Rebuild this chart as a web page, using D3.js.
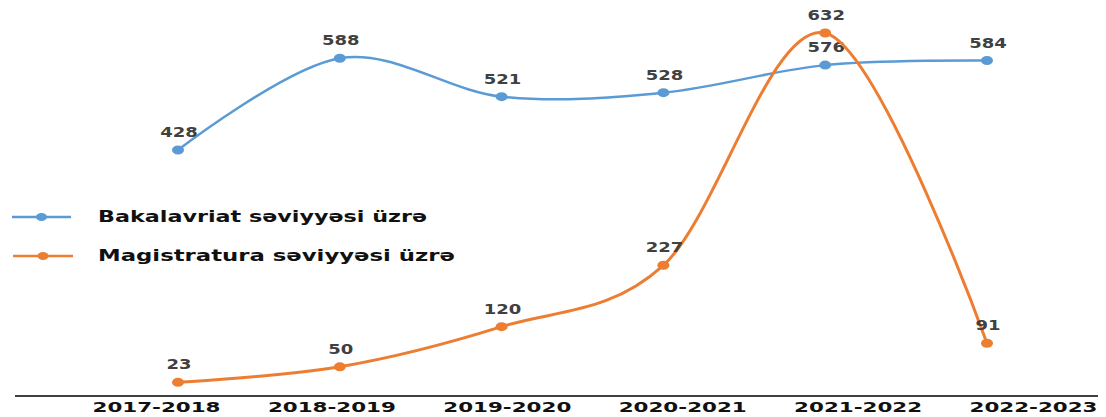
<!DOCTYPE html>
<html><head><meta charset="utf-8">
<script src="https://cdn.jsdelivr.net/npm/d3@7"></script>
<style>html,body{margin:0;padding:0;background:#fff;}svg{display:block;}</style>
</head><body>
<svg id="chart" width="1106" height="417"></svg>
<script>
const categories = ["2017-2018","2018-2019","2019-2020","2020-2021","2021-2022","2022-2023"];
const bakalavriat = [428, 588, 521, 528, 576, 584];
const magistratura = [23, 50, 120, 227, 632, 91];
const seriesNames = ["Bakalavriat səviyyəsi üzrə", "Magistratura səviyyəsi üzrə"];
const colors = ["#5B9BD5", "#ED7D31"];

const svg = d3.select("#chart");
const x = d3.scalePoint().domain(categories).range([178, 987]);
const xLabel = d3.scalePoint().domain(categories).range([156, 1033]);
const y = d3.scaleLinear().domain([0, 700]).range([395.5, -6]);

// baseline axis
svg.append("line").attr("x1", 15).attr("x2", 1098).attr("y1", 396).attr("y2", 396)
  .attr("stroke", "#000").attr("stroke-width", 1.5);

const axis = svg.append("g").attr("transform", "translate(0,396)")
  .call(d3.axisBottom(xLabel).tickSize(0).tickPadding(0));
axis.select(".domain").remove();
axis.selectAll("text")
  .attr("y", 16).attr("dy", 0)
  .attr("font-family", "DejaVu Sans").attr("font-weight", "bold").attr("font-size", 14)
  .attr("fill", "#111")
  .attr("textLength", 128).attr("lengthAdjust", "spacingAndGlyphs");

const line = d3.line().x((d, i) => x(categories[i])).y(d => y(d)).curve(d3.curveCardinal.tension(0));

[bakalavriat, magistratura].forEach((vals, si) => {
  const g = svg.append("g");
  g.append("path").attr("d", line(vals)).attr("fill", "none")
    .attr("stroke", colors[si]).attr("stroke-width", si === 0 ? 2.5 : 3);
  g.selectAll("ellipse").data(vals).join("ellipse")
    .attr("cx", (d, i) => x(categories[i])).attr("cy", d => y(d))
    .attr("rx", 6).attr("ry", 4.5).attr("fill", colors[si]);
  g.selectAll("text").data(vals).join("text")
    .attr("x", (d, i) => x(categories[i]) + 1)
    .attr("y", d => y(d) - 13)
    .attr("text-anchor", "middle")
    .attr("font-family", "DejaVu Sans").attr("font-weight", "bold").attr("font-size", 14)
    .attr("fill", "#404040")
    .attr("textLength", d => String(d).length * 12.5).attr("lengthAdjust", "spacingAndGlyphs")
    .text(d => d);
});

// legend
const legendY = [217, 256];
const legendLine = [[12, 71], [13, 73]];
const legendText = [329, 357];
seriesNames.forEach((name, i) => {
  const g = svg.append("g");
  g.append("line").attr("x1", legendLine[i][0]).attr("x2", legendLine[i][1])
    .attr("y1", legendY[i]).attr("y2", legendY[i]).attr("stroke", colors[i]).attr("stroke-width", 2.5);
  g.append("ellipse").attr("cx", (legendLine[i][0] + legendLine[i][1]) / 2).attr("cy", legendY[i])
    .attr("rx", 5.5).attr("ry", 4).attr("fill", colors[i]);
  g.append("text").attr("x", 98).attr("y", legendY[i] + 5)
    .attr("font-family", "DejaVu Sans").attr("font-weight", "bold").attr("font-size", 15)
    .attr("fill", "#111")
    .attr("textLength", legendText[i]).attr("lengthAdjust", "spacingAndGlyphs")
    .text(name);
});
</script>
</body></html>
